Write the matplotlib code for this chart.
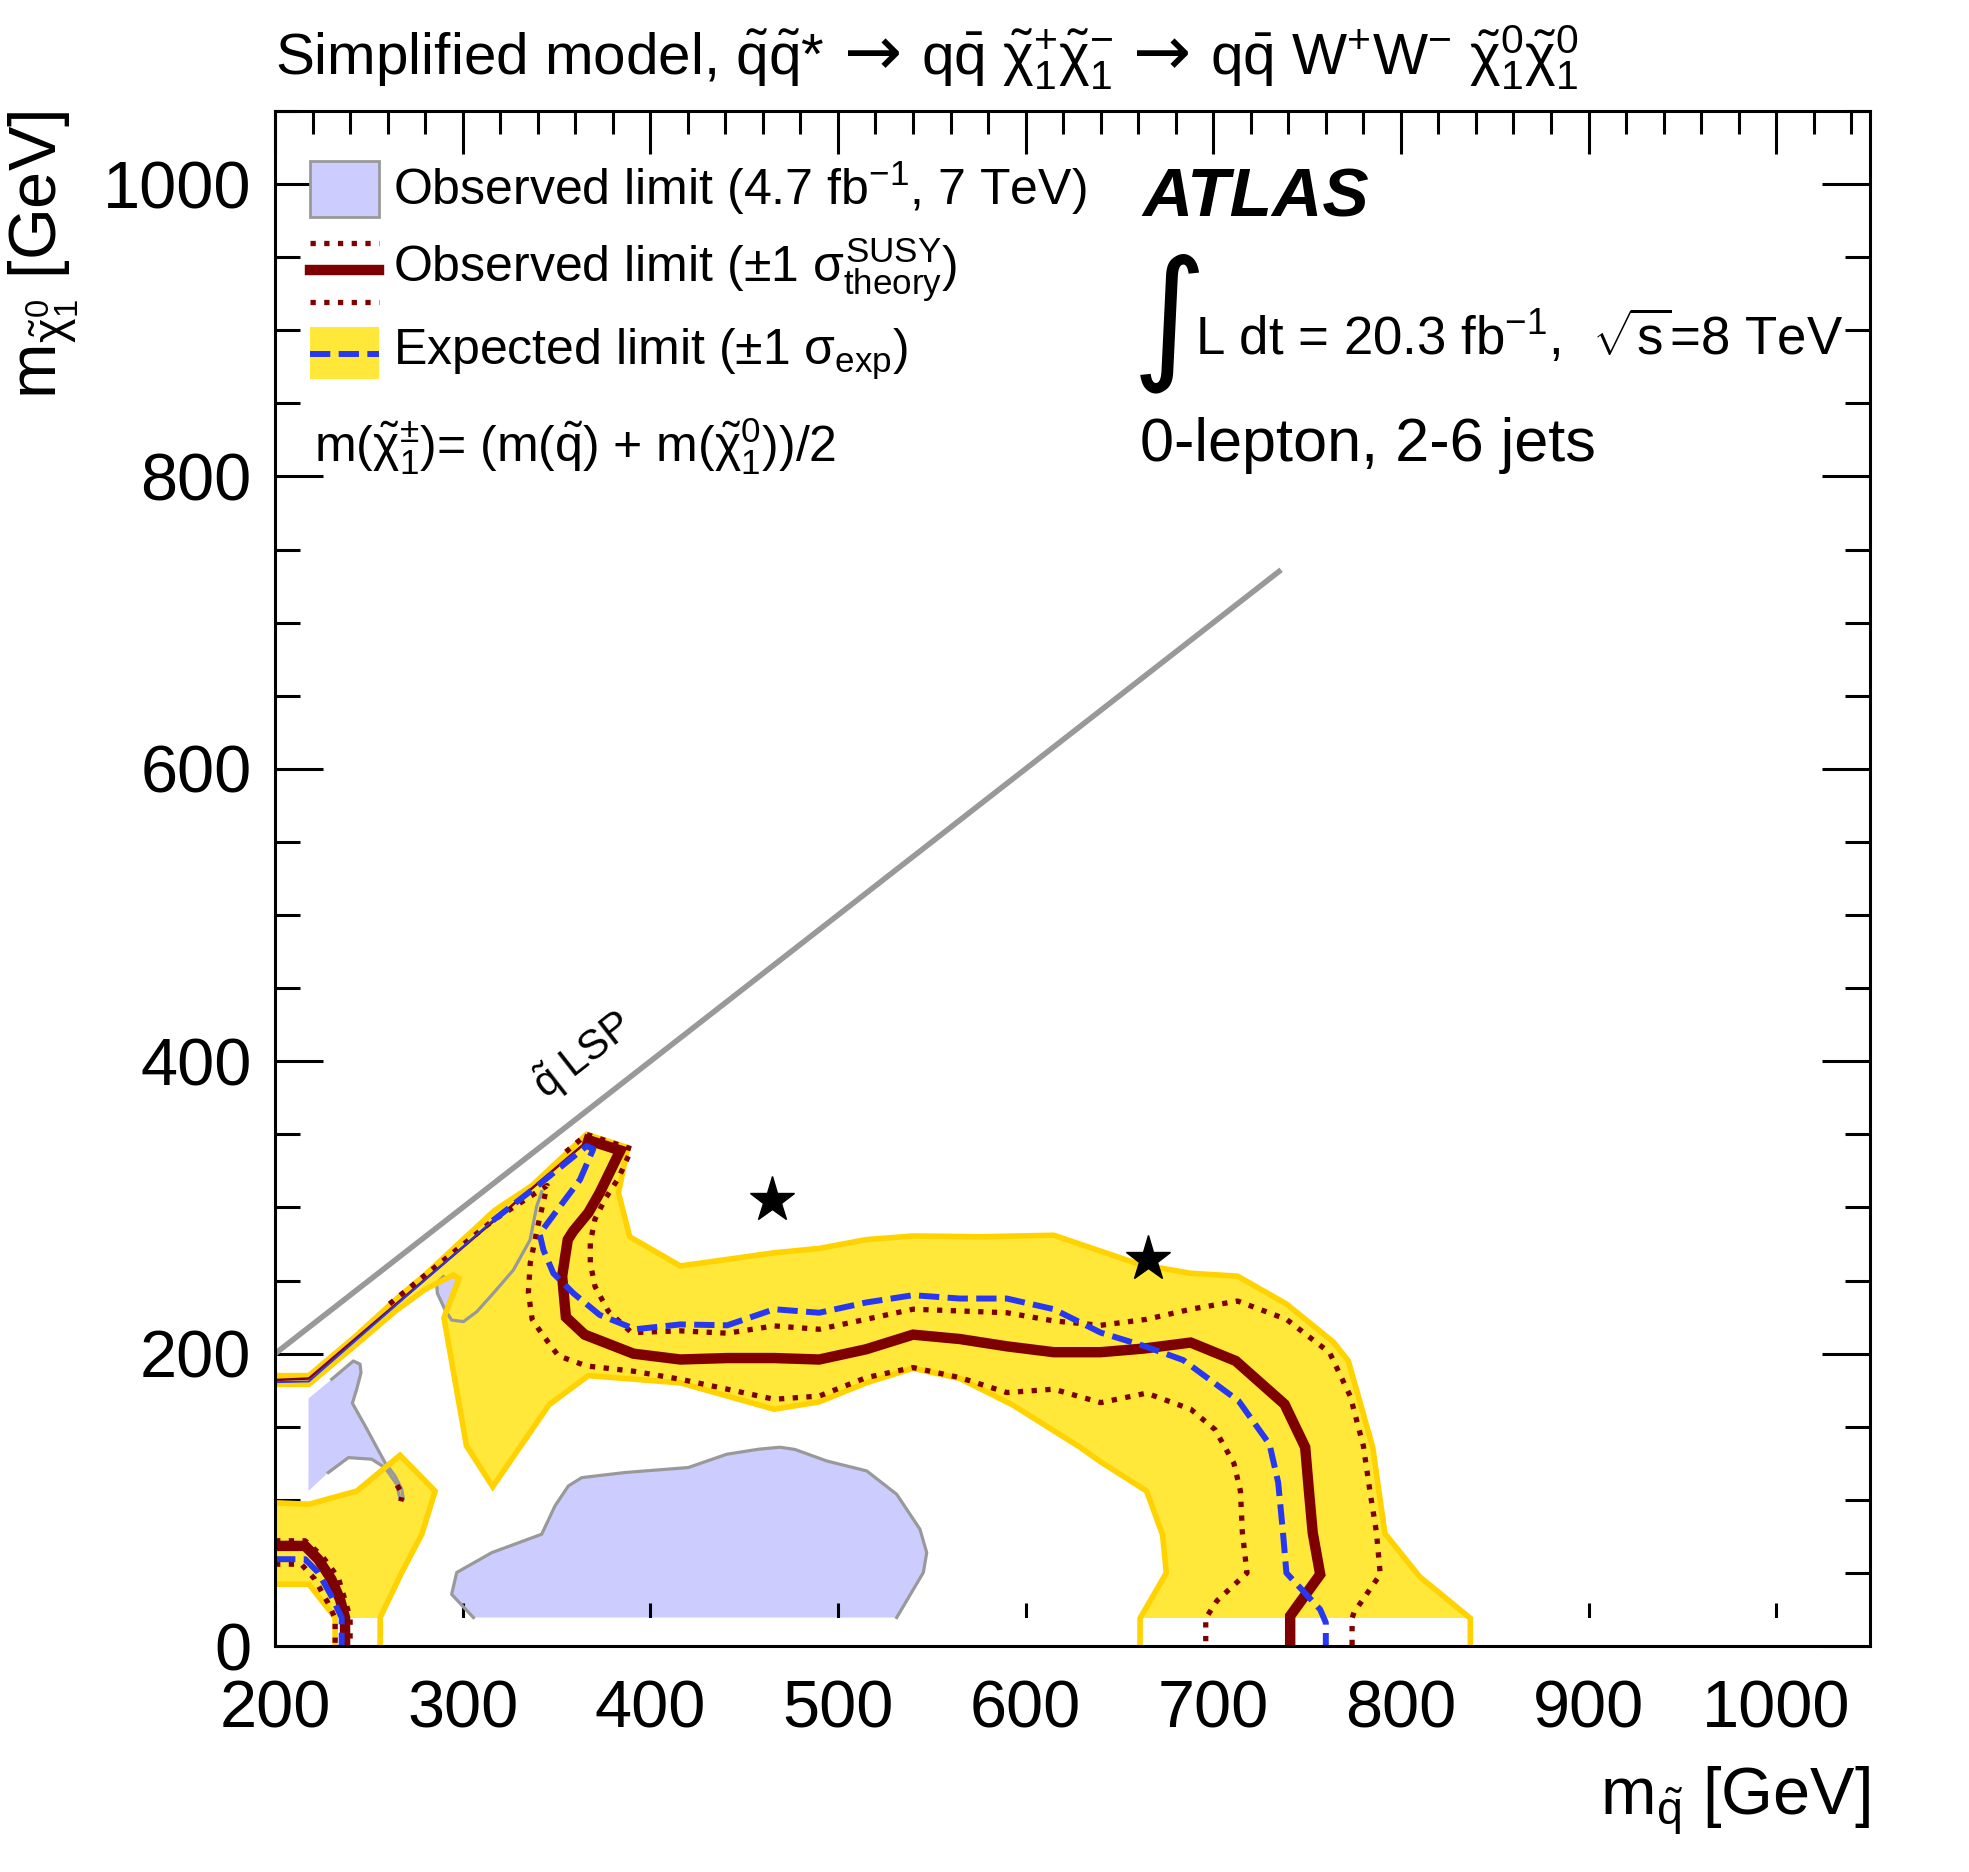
import matplotlib
matplotlib.use("Agg")
import matplotlib.pyplot as plt
from matplotlib.patches import Polygon, Rectangle
from matplotlib.ticker import MultipleLocator

plt.rcParams['font.family'] = ['Liberation Sans', 'DejaVu Sans']
plt.rcParams['mathtext.fontset'] = 'custom'
plt.rcParams['mathtext.rm'] = 'Liberation Sans'
plt.rcParams['mathtext.it'] = 'Liberation Sans'
plt.rcParams['mathtext.bf'] = 'Liberation Sans:bold'
plt.rcParams['mathtext.sf'] = 'Liberation Sans'

# ---- data (m_squark, m_chi10) in GeV ----
# expected +-1 sigma band: outer and inner edge
band_out_x = [200, 218, 243, 266, 280, 317, 337, 366, 388, 383, 389, 416, 466, 490, 515, 540, 576, 615,
              661, 688, 713, 739, 764, 772, 785, 791.5, 810, 837, 837]
band_out_y = [185, 185, 212, 239, 254, 298, 315, 350, 341, 310, 280, 260, 269, 272, 278, 280.5, 280, 281,
              261, 255, 253, 234, 208, 195, 136, 77, 47.5, 19, 0]
band_in_x = [200, 218, 243, 264, 280, 295, 298, 290, 302, 316, 346, 367, 416, 466, 490, 515, 540, 565,
             593, 629, 640, 664.5, 673, 675, 661, 661]
band_in_y = [179, 179, 206, 229, 244, 253.8, 251.5, 224.5, 137, 109, 165, 185, 180, 162, 167, 180, 190, 183,
             165, 136, 126, 106, 76, 50, 19, 0]
# small band in the low mass corner
band2_out_x = [200, 218, 243.5, 266.6, 285.3, 278.2, 267.5, 256, 256]
band2_out_y = [98, 97, 106, 130.5, 106, 76.5, 50.3, 19.5, 0]
band2_in_x = [200, 218, 232, 232]
band2_in_y = [42.3, 42.3, 19.5, 0]

# observed limit
obs_x = [367, 384, 373, 367, 359, 356, 353, 355, 365, 391, 416, 441, 466, 490, 515, 540, 565, 590, 615,
         640, 663, 688, 712, 738, 749, 751, 753, 757, 741, 741]
obs_y = [346, 339, 310, 296.5, 284, 278, 253, 225, 213, 200, 196, 197, 197, 196, 203, 213, 210, 205, 201,
         201, 203.5, 207.6, 195, 165.4, 136, 106, 77.6, 49, 20.6, 0]
obs_diag_x = [200, 218, 367]
obs_diag_y = [182, 183, 346]
obs_low_x = [200, 216, 223, 230, 234.6, 237.3, 237.3]
obs_low_y = [68.5, 68.5, 59.4, 45.7, 32, 19.5, 0]

# observed +-1 sigma theory
th_up_x = [355, 366, 390, 383, 376, 370.5, 368, 368, 370.5, 377.6, 390, 416, 441, 466, 490, 515, 540, 565,
           590, 615, 640, 664.5, 688, 713, 739, 762, 773, 780, 783.5, 787, 789, 775, 774, 774]
th_up_y = [338, 350, 340, 320, 306, 292, 276, 262, 246, 229, 214.4, 215.6, 214, 219, 216.7, 223.5, 230.4, 229.2,
           228, 222.4, 219.4, 223.5, 230.4, 236, 223.5, 200.7, 171, 137, 106, 77.6, 49, 23, 19, 0]
th_dn_x = [261, 316, 345, 340, 336, 335, 337, 342, 351, 366, 391, 416, 441, 466, 490, 515, 540, 565, 590,
           615, 640, 664.5, 688, 701, 711, 714.5, 715.5, 718, 702, 696, 696]
th_dn_y = [234, 291, 315, 287, 262, 242, 223.5, 214, 198.5, 191.6, 188, 182.5, 175.7, 168.8, 171, 183.6, 190.5,
           183.6, 173.4, 175.7, 166.5, 173, 162, 148, 125, 106, 78, 50, 31, 19, 0]
th_low_up_x = [200, 216, 225, 233.7, 240, 240]
th_low_up_y = [72, 72, 61.7, 46.8, 19.5, 0]
th_low_dn_x = [200, 214, 221, 228, 232, 232]
th_low_dn_y = [56, 56, 46, 30, 19, 0]
th_blob_x = [265, 268, 267]
th_blob_y = [110, 104, 99]

# expected limit
exp_x = [316, 341, 366, 369.6, 362.5, 352, 341, 343, 348.3, 359, 373, 392, 416, 441, 466, 490, 515, 540,
         565, 590, 615, 640, 663, 684, 713.5, 730, 734.6, 737, 739, 757, 760, 760]
exp_y = [291, 316, 342, 340, 319, 301, 282, 271, 255, 241.3, 226.5, 216.7, 220, 219.4, 230.4, 228, 235, 240,
         237.7, 237.7, 230.4, 214.4, 205.3, 195.6, 167.7, 138, 112, 80, 50, 25, 16, 0]
exp_diag_x = [200, 218, 316]
exp_diag_y = [180.5, 181, 291]
exp_low_x = [200, 216, 223, 230, 235.5, 235.5]
exp_low_y = [59.4, 59.4, 50.3, 34.3, 19.5, 0]

# observed limit 4.7 fb-1, 7 TeV
old_blob_x = [305.7, 294.1, 296.8, 315.5, 342.1, 349.2, 356.3, 363.4, 386.5, 420.2, 440.7, 457.5, 469, 477,
              494, 515.3, 531.3, 543.7, 547.3, 545.5, 531.3]
old_blob_y = [19.5, 35.4, 50.3, 63.9, 76.5, 95.9, 109.5, 115.2, 118.7, 122.1, 131.2, 134.6, 136, 134.5,
              126.6, 119.8, 103.8, 79.9, 63.9, 50.3, 19.5]
old_left_x = [217.8, 230.2, 241.7, 245.3, 245.8, 243.5, 241.2, 248, 253.3, 258.6, 263.9, 267.5, 268.4,
              266.6, 264.8, 258.6, 251.5, 239.1, 228.4, 217.8]
old_left_y = [169.3, 182.5, 195, 192.8, 187, 175.7, 166.1, 150.6, 138, 125.5, 116.4, 107.3, 100.4,
              100.4, 110.7, 122, 127.8, 128.9, 118.7, 106.1]
old_diag_x = [342.1, 339.4, 335.9, 327, 316.3, 307.5, 300.4, 294.1, 290.6, 286.5, 286.1, 289.7]
old_diag_y = [310.8, 300.6, 277.8, 257.2, 241.3, 228.7, 221.9, 223, 229.9, 241.3, 248.1, 252.7]

# kinematic line and benchmark points
diag_x = [200, 735]
diag_y = [200, 735]
star_x = [465, 665]
star_y = [305, 265]

# title pieces (arrows are set in DejaVu Sans)
title_parts = ['Simplified model, ' + r'$\tilde{q}\tilde{q}$*',
               '\u2192',
               r'q$\bar{\rm q}$ $\tilde{\chi}^{+}_{1}\tilde{\chi}^{-}_{1}$',
               '\u2192',
               r'q$\bar{\rm q}$ W$^{+}$W$^{-}$ $\tilde{\chi}^{0}_{1}\tilde{\chi}^{0}_{1}$']

c_fill = '#FFE83A'
c_edge = '#FFD200'
c_obs = '#7F0000'
c_exp = '#2838F0'
c_old = '#CCCCFF'
c_grey = '#999999'

fig = plt.figure(figsize=(19.69, 18.72), dpi=100)
ax = fig.add_axes([0.1397, 0.1207, 0.81, 0.82])

# fills
ax.add_patch(Polygon(list(zip(old_blob_x, old_blob_y)), closed=True, fc=c_old, ec='none', zorder=1))
ax.add_patch(Polygon(list(zip(old_left_x, old_left_y)), closed=True, fc=c_old, ec='none', zorder=1))
ax.add_patch(Polygon(list(zip(old_diag_x, old_diag_y)) + [(310, 290)], closed=True, fc=c_old, ec='none', zorder=1))

band = list(zip(band_out_x, band_out_y)) + list(zip(band_in_x, band_in_y))[::-1]
ax.add_patch(Polygon(band, closed=True, fc=c_fill, ec='none', zorder=2))
band2 = list(zip(band2_out_x, band2_out_y)) + list(zip(band2_in_x, band2_in_y))[::-1]
ax.add_patch(Polygon(band2, closed=True, fc=c_fill, ec='none', zorder=2))
# the fills stop a bit above zero
ax.add_patch(Rectangle((200, 0), 850, 19.5, fc='white', ec='none', zorder=3))

# outlines
ax.plot(old_blob_x, old_blob_y, color=c_grey, lw=2.3, zorder=4)
ax.plot(old_left_x[1:-1], old_left_y[1:-1], color=c_grey, lw=2.3, zorder=4)
ax.plot(old_diag_x, old_diag_y, color=c_grey, lw=2.3, zorder=4)
for xs, ys in [(band_out_x, band_out_y), (band_in_x, band_in_y),
               (band2_out_x, band2_out_y), (band2_in_x, band2_in_y)]:
    ax.plot(xs, ys, color=c_edge, lw=4, zorder=4, solid_joinstyle='miter')

ax.plot(diag_x, diag_y, color=c_grey, lw=4, zorder=4)
ax.text(364, 404, r'$\tilde{q}$ LSP', rotation=38, fontsize=30, ha='center', va='center', zorder=4)

dot = (0, (1.0, 1.6))
for xs, ys in [(th_up_x, th_up_y), (th_dn_x, th_dn_y), (th_low_up_x, th_low_up_y),
               (th_low_dn_x, th_low_dn_y), (th_blob_x, th_blob_y)]:
    ax.plot(xs, ys, color=c_obs, lw=3.8, ls=dot, zorder=5)

ax.plot(obs_diag_x, obs_diag_y, color=c_obs, lw=1.8, zorder=6)
ax.plot(obs_x, obs_y, color=c_obs, lw=7.5, zorder=6, solid_joinstyle='miter')
ax.plot(obs_low_x, obs_low_y, color=c_obs, lw=7.5, zorder=6)

dash = (0, (3.4, 1.4))
ax.plot(exp_diag_x, exp_diag_y, color=c_exp, lw=1.4, zorder=7)
ax.plot(exp_x, exp_y, color=c_exp, lw=4.3, ls=dash, zorder=7)
ax.plot(exp_low_x, exp_low_y, color=c_exp, lw=4.3, ls=dash, zorder=7)

ax.plot(star_x, star_y, ls='none', marker='*', ms=34, color='black', zorder=8)

# axes
ax.set_xlim(200, 1050)
ax.set_ylim(0, 1050)
ax.xaxis.set_major_locator(MultipleLocator(100))
ax.xaxis.set_minor_locator(MultipleLocator(20))
ax.yaxis.set_major_locator(MultipleLocator(200))
ax.yaxis.set_minor_locator(MultipleLocator(50))
ax.set_xticks([200, 300, 400, 500, 600, 700, 800, 900, 1000])
ax.set_yticks([0, 200, 400, 600, 800, 1000])
ax.tick_params(which='both', direction='in', top=True, right=True, width=2.2, labelsize=48)
ax.tick_params(axis='x', which='major', length=31, pad=24)
ax.tick_params(axis='x', which='minor', length=16.5)
ax.tick_params(axis='y', which='major', length=34.5, pad=17)
ax.tick_params(axis='y', which='minor', length=18)
for s in ax.spines.values():
    s.set_linewidth(2.2)
    s.set_zorder(10)

ax.text(1.0, -0.1098, r'm$_{\tilde{q}}$ [GeV]', transform=ax.transAxes, fontsize=48,
        ha='right', va='baseline')
ax.text(-0.1369, 1.0, r'm$_{\tilde{\chi}^{0}_{1}}$ [GeV]', transform=ax.transAxes, fontsize=48,
        rotation=90, rotation_mode='anchor', ha='right', va='baseline')

# title: pieces placed one after the other
renderer = fig.canvas.get_renderer()
tx = 0.0
gap = 0.012
for part in title_parts:
    if part == '\u2192':
        t = ax.text(tx, 1.0232, part, transform=ax.transAxes, fontsize=50, va='baseline',
                    ha='left', family=['DejaVu Sans'])
    else:
        t = ax.text(tx, 1.0232, part, transform=ax.transAxes, fontsize=42, va='baseline', ha='left')
    bb = t.get_window_extent(renderer)
    tx = ax.transAxes.inverted().transform((bb.x1, bb.y0))[0] + gap

# legend drawn by hand
lx0, lx1 = 0.0221, 0.0654
ax.add_patch(Rectangle((lx0, 0.9308), lx1 - lx0, 0.0368, transform=ax.transAxes,
                       fc=c_old, ec=c_grey, lw=2, zorder=11))
ax.plot([lx0, lx1], [0.9143, 0.9143], transform=ax.transAxes, color=c_obs, lw=3.8, ls=dot, zorder=11)
ax.plot([lx0, lx1], [0.8963, 0.8963], transform=ax.transAxes, color=c_obs, lw=7.5, zorder=11)
ax.plot([lx0, lx1], [0.8759, 0.8759], transform=ax.transAxes, color=c_obs, lw=3.8, ls=dot, zorder=11)
ax.add_patch(Rectangle((lx0, 0.8252), lx1 - lx0, 0.0344, transform=ax.transAxes,
                       fc=c_fill, ec='none', zorder=11))
ax.plot([lx0, lx1], [0.8416, 0.8416], transform=ax.transAxes, color=c_exp, lw=4.3, ls=dash, zorder=12)

leg_fs = 36
ax.text(0.0741, 0.9496, r'Observed limit (4.7 fb$^{-1}$, 7 TeV)', transform=ax.transAxes,
        fontsize=leg_fs, va='center', zorder=11)
ax.text(0.0741, 0.8963, r'Observed limit ($\pm$1 $\sigma^{\rm SUSY}_{\rm theory}$)', transform=ax.transAxes,
        fontsize=leg_fs, va='center', zorder=11)
ax.text(0.0741, 0.8416, r'Expected limit ($\pm$1 $\sigma_{\rm exp}$)', transform=ax.transAxes,
        fontsize=leg_fs, va='center', zorder=11)
ax.text(0.0245, 0.7819, r'm($\tilde{\chi}^{\pm}_{1}$)= (m($\tilde{q}$) + m($\tilde{\chi}^{0}_{1}$))/2',
        transform=ax.transAxes, fontsize=leg_fs, va='center', zorder=11)

ax.text(0.5441, 0.943, 'ATLAS', transform=ax.transAxes, fontsize=50, fontweight='bold',
        fontstyle='italic', va='center', zorder=11)
ax.text(0.537, 0.862, '\u222b', transform=ax.transAxes, fontsize=104, va='center', zorder=11,
        family=['DejaVu Sans'])
ax.text(0.577, 0.853, r'L dt = 20.3 fb$^{-1}$,  $\sqrt{\rm s}$=8 TeV', transform=ax.transAxes,
        fontsize=38, va='center', zorder=11)
ax.text(0.5426, 0.7819, '0-lepton, 2-6 jets', transform=ax.transAxes, fontsize=44, va='center', zorder=11)

fig.savefig('out.png', dpi=100)
